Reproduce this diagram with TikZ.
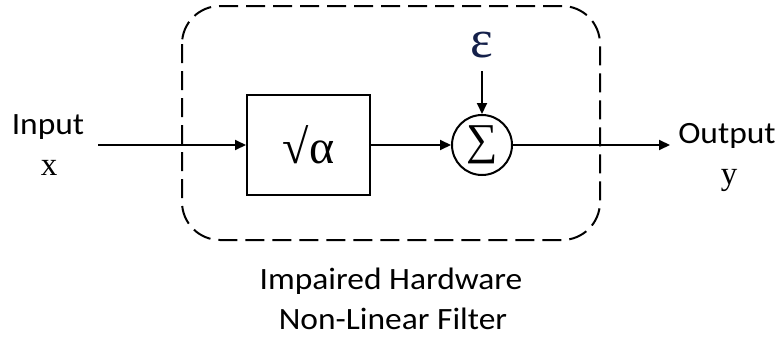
\documentclass[tikz,border=0pt]{standalone}
\usepackage{fontspec}
\setmainfont{Liberation Serif}
\newfontfamily\lab[FakeStretch=1.08]{Carlito}
\usetikzlibrary{arrows.meta}
\definecolor{navy}{HTML}{14204A}
\tikzset{
  arr/.style={line width=2pt,-{Triangle[length=11pt,width=10pt]}},
  lbl/.style={font=\lab\fontsize{31}{31}\selectfont,inner sep=0pt,anchor=base},
  var/.style={font=\fontsize{33}{33}\selectfont,inner sep=0pt,anchor=base},
}
\begin{document}
\begin{tikzpicture}[x=1pt,y=-1pt]
\useasboundingbox (0,0) rectangle (779,340);
\draw[line width=2pt,dash pattern=on 19pt off 8pt,rounded corners=38pt] (182,6) rectangle (600,240);
\node[draw,line width=2pt,minimum width=123pt,minimum height=100pt,inner sep=0pt,font=\fontsize{48}{48}\selectfont] (box) at (308.5,145) {√α};
\node[draw,circle,line width=2pt,minimum size=60pt,inner sep=0pt,font=\fontsize{44}{44}\selectfont] (sum) at (482,145) {∑};
\node[inner sep=0pt,text=navy,font=\fontsize{54}{54}\selectfont] (eps) at (482,45) {ε};
\coordinate (epsfoot) at (482,71);
\coordinate (inx) at (98,145);
\coordinate (outy) at (670,145);
\node[lbl] (inlab) at (48,134) {Input};
\node[var] (xlab) at (49,175) {x};
\node[lbl] (outlab) at (727,143) {Output};
\node[var] (ylab) at (729,184) {y};
\node[lbl] (cap1) at (391,289) {Impaired Hardware};
\node[lbl] (cap2) at (393,329) {Non-Linear Filter};
\draw[arr] (inx) -- (box);
\draw[arr] (box) -- (sum);
\draw[arr] (sum) -- (outy);
\draw[arr] (epsfoot) -- (sum);
\end{tikzpicture}
\end{document}
